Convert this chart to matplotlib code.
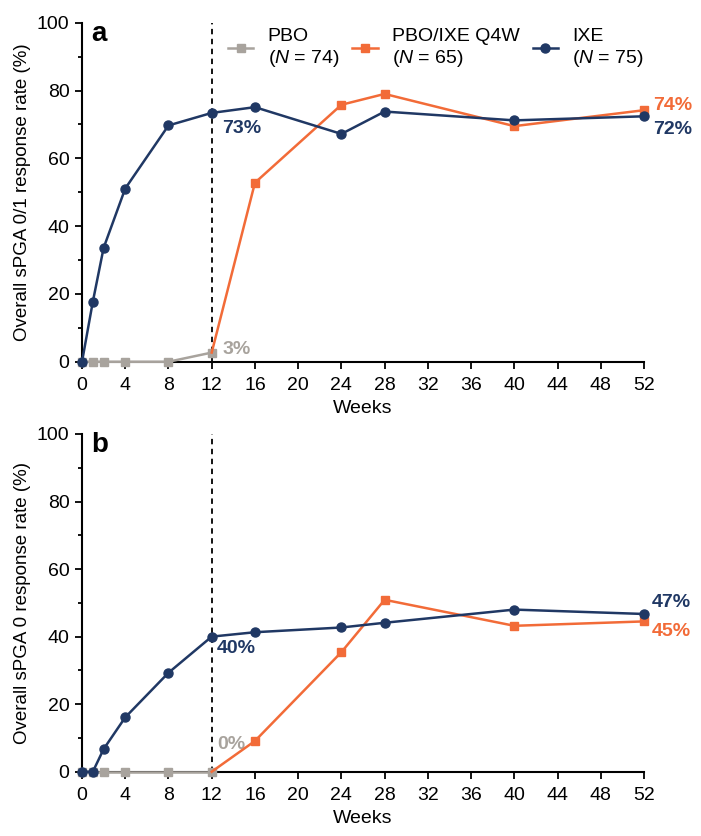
import matplotlib
matplotlib.use("Agg")
import matplotlib.pyplot as plt
import numpy as np

plt.rcParams['font.family'] = ['Liberation Sans', 'DejaVu Sans']
plt.rcParams['mathtext.fontset'] = 'custom'
plt.rcParams['mathtext.it'] = 'Liberation Sans:italic'
plt.rcParams['mathtext.rm'] = 'Liberation Sans'

NAVY = '#203864'
ORANGE = '#F26B38'
GRAY = '#A8A39D'

# panel a : sPGA 0/1
pbo_wk_a = [0, 1, 2, 4, 8, 12]
pbo_a = [0, 0, 0, 0, 0, 2.7]
sw_wk = [12, 16, 24, 28, 40, 52]
sw_a = [2.7, 52.8, 75.8, 79.0, 69.5, 74.2]
ixe_wk_a = [0, 1, 2, 4, 8, 12, 16, 24, 28, 40, 52]
ixe_a = [0, 17.7, 33.6, 51.1, 69.7, 73.4, 75.1, 67.2, 73.8, 71.2, 72.4]

# panel b : sPGA 0
pbo_wk_b = [0, 1, 2, 4, 8, 12]
pbo_b = [0, 0, 0, 0, 0, 0]
sw_b = [0, 9.1, 35.4, 50.9, 43.2, 44.5]
ixe_wk_b = [0, 1, 2, 4, 8, 12, 16, 24, 28, 40, 52]
ixe_b = [0, 0, 6.7, 16.1, 29.3, 40.0, 41.3, 42.7, 44.1, 48.0, 46.7]

legend_labels = ['PBO\n($\\it{N}$ = 74)', 'PBO/IXE Q4W\n($\\it{N}$ = 65)', 'IXE\n($\\it{N}$ = 75)']

fig = plt.figure(figsize=(7.01, 8.36), dpi=100)
ax_a = fig.add_axes([0.1170, 0.5673, 0.8017, 0.4055])
ax_b = fig.add_axes([0.1170, 0.0769, 0.8017, 0.4040])

FS = 14


def draw(ax, pbo_wk, pbo, sw, ixe_wk, ixe, letter, ylabel):
    ax.axvline(12, ymin=0, ymax=1, color='black', ls=(0, (3, 2.5)), lw=1.3, zorder=1)
    l1, = ax.plot(pbo_wk, pbo, color=GRAY, marker='s', ms=6, lw=1.8, clip_on=False, zorder=3)
    l2, = ax.plot(sw_wk, sw, color=ORANGE, marker='s', ms=6, lw=1.8, clip_on=False, zorder=4,
                  markevery=list(range(1, len(sw))))
    l3, = ax.plot(ixe_wk, ixe, color=NAVY, marker='o', ms=6.5, lw=1.8, clip_on=False, zorder=5)
    ax.set_xlim(0, 52)
    ax.set_ylim(0, 100)
    ax.set_xticks(np.arange(0, 53, 4))
    ax.set_xticks([1, 2], minor=True)
    ax.set_yticks(np.arange(0, 101, 20))
    ax.set_yticks(np.arange(10, 100, 20), minor=True)
    ax.tick_params(axis='both', which='major', labelsize=FS, length=5, width=1.3, direction='out')
    ax.tick_params(axis='x', which='major', pad=6)
    ax.tick_params(axis='y', which='major', pad=4)
    ax.tick_params(axis='both', which='minor', length=3, width=1.3)
    for s in ['top', 'right']:
        ax.spines[s].set_visible(False)
    for s in ['left', 'bottom']:
        ax.spines[s].set_linewidth(1.5)
    ax.set_xlabel('Weeks', fontsize=FS, labelpad=4)
    ax.set_ylabel(ylabel, fontsize=13.5, labelpad=4)
    ax.text(0.016, 1.005, letter, transform=ax.transAxes, fontsize=20, fontweight='bold', va='top', ha='left')
    return l1, l2, l3


l1, l2, l3 = draw(ax_a, pbo_wk_a, pbo_a, sw_a, ixe_wk_a, ixe_a, 'a', 'Overall sPGA 0/1 response rate (%)')
draw(ax_b, pbo_wk_b, pbo_b, sw_b, ixe_wk_b, ixe_b, 'b', 'Overall sPGA 0 response rate (%)')

fig.legend([l1, l2, l3], legend_labels, ncol=3, frameon=False, loc='upper left',
           bbox_to_anchor=(228 / 701, 1 - 28 / 836), borderaxespad=0, borderpad=0,
           fontsize=FS, handlelength=1.3, handletextpad=0.75, columnspacing=0.65,
           labelspacing=0.2)

bold = dict(fontsize=FS, fontweight='bold')
ax_a.text(13.0, ixe_a[5] - 2.2, '73%', color=NAVY, va='top', **bold)
ax_a.text(13.0, pbo_a[-1] + 1, '3%', color=GRAY, va='center', **bold)
ax_a.text(52.8, 75.7, '74%', color=ORANGE, va='center', clip_on=False, **bold)
ax_a.text(52.8, 68.6, '72%', color=NAVY, va='center', clip_on=False, **bold)

ax_b.text(12.5, ixe_b[5] - 1.0, '40%', color=NAVY, va='top', **bold)
ax_b.text(12.5, 8.0, '0%', color=GRAY, va='center', **bold)
ax_b.text(52.7, 50.0, '47%', color=NAVY, va='center', clip_on=False, **bold)
ax_b.text(52.7, 41.4, '45%', color=ORANGE, va='center', clip_on=False, **bold)

fig.savefig('out.png', dpi=100)
